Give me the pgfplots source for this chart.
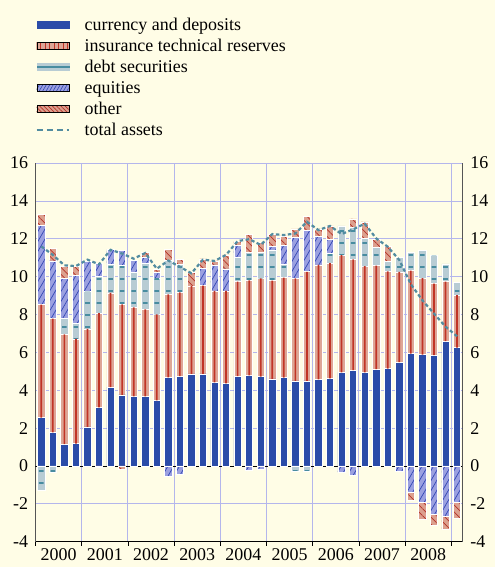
\documentclass[border=0pt]{standalone}
\usepackage{fontspec}
\setmainfont{Liberation Serif}
\usepackage{pgfplots}
\pgfplotsset{compat=1.18}
\usepackage{pgfplotstable}
\usetikzlibrary{patterns.meta}

\definecolor{bg}{RGB}{255,253,230}
\definecolor{curblue}{RGB}{43,76,168}
\definecolor{insfill}{RGB}{222,166,150}
\definecolor{insline}{RGB}{192,52,38}
\definecolor{debtfill}{RGB}{184,204,212}
\definecolor{debtline}{RGB}{72,140,160}
\definecolor{eqfill}{RGB}{155,160,224}
\definecolor{eqline}{RGB}{50,70,180}
\definecolor{othfill}{RGB}{220,160,142}
\definecolor{othline}{RGB}{180,50,40}
\definecolor{totline}{RGB}{82,140,160}
\definecolor{gridc}{RGB}{180,182,236}
\definecolor{axisgray}{RGB}{85,85,85}

\pgfplotstableread{
x cur ins debt eq oth
0.5 2.55 5.97 0 4.17 0.60
1.5 1.78 6.00 0 3.05 0.65
2.5 1.15 5.80 0.85 2.13 0.60
3.5 1.18 5.53 0.82 2.52 0.51
4.5 2.06 5.18 1.97 1.58 0
5.5 3.10 4.98 1.95 0.67 0
6.5 4.17 4.97 1.51 0.79 0
7.5 3.75 4.79 2.06 0.77 0
8.5 3.68 4.70 1.85 0.62 0
9.5 3.68 4.59 2.42 0.31 0.27
10.5 3.47 4.54 1.92 0.30 0.17
11.5 4.68 4.39 1.81 0 0.58
12.5 4.75 4.42 1.48 0 0.27
13.5 4.86 4.65 0 0 0.72
14.5 4.86 4.67 0 0.91 0.50
15.5 4.42 4.83 0 1.37 0.21
16.5 4.37 4.88 0 1.16 0.74
17.5 4.75 4.99 1.26 0.64 0.21
18.5 4.78 5.03 1.48 0 0.95
19.5 4.72 5.19 1.39 0 0.53
20.5 4.60 5.19 1.62 0.17 0.64
21.5 4.67 5.28 0.70 1.00 0.50
22.5 4.49 5.42 0 2.17 0.44
23.5 4.49 5.77 0 2.17 0.77
24.5 4.58 6.04 0 1.49 0.41
25.5 4.63 6.09 0.51 0.74 0.71
26.5 4.95 6.19 1.54 0 0
27.5 5.07 5.85 1.68 0 0.45
28.5 4.95 5.61 1.48 0 0.85
29.5 5.12 5.46 0.97 0 0.44
30.5 5.14 5.14 0.51 0 0.79
31.5 5.48 4.77 0.77 0 0
32.5 5.93 4.39 0.95 0 0
33.5 5.88 4.05 1.44 0 0
34.5 5.85 3.78 1.48 0 0
35.5 6.60 3.14 0.93 0 0
36.5 6.25 2.78 0.65 0 0
}\postab

\pgfplotstableread{
x debt eq oth
0.5 -1.30 0 0
1.5 -0.33 0 0
5.5 0 0 -0.08
7.5 0 0 -0.18
11.5 0 -0.56 0
12.5 0 -0.44 0
18.5 0 -0.25 0
19.5 0 -0.18 0
22.5 -0.26 0 0
23.5 -0.26 0 0
26.5 0 -0.33 0
27.5 0 -0.51 0
31.5 0 -0.30 0
32.5 0 -1.39 -0.40
33.5 0 -1.92 -0.88
34.5 0 -2.53 -0.59
35.5 0 -2.67 -0.66
36.5 0 -1.92 -0.84
}\negtab

\pgfplotstableread{
x tot
0.5 11.6
1.5 11.15
2.5 10.6
3.5 10.56
4.5 10.9
5.5 10.65
6.5 11.42
7.5 11.22
8.5 10.95
9.5 11.25
10.5 10.42
11.5 10.85
12.5 10.52
13.5 10.18
14.5 10.9
15.5 10.83
16.5 11.15
17.5 11.88
18.5 11.98
19.5 11.68
20.5 12.25
21.5 12.2
22.5 12.28
23.5 12.9
24.5 12.46
25.5 12.68
26.5 12.25
27.5 12.5
28.5 12.8
29.5 12.02
30.5 11.58
31.5 10.88
32.5 9.6
33.5 8.75
34.5 8.05
35.5 7.36
36.5 6.85
}\tottab

\pgfplotsset{
  base/.style={x=11.55bp, y=18.93bp, xmin=0, xmax=37, ymin=-4, ymax=16,
    enlargelimits=false, at={(35.5bp,25.3bp)}, anchor=south west},
  curst/.style={fill=curblue, draw=white, line width=0.7bp},
  insst/.style={fill=insfill, draw=white, line width=0.7bp},
  debtst/.style={fill=debtfill, draw=white, line width=0.7bp},
  debtpat/.style={draw=none, pattern={Lines[angle=0,distance=12bp,line width=1.2bp]}, pattern color=debtline},
  eqst/.style={fill=eqfill, draw=white, line width=0.7bp,
    postaction={pattern={Lines[angle=60,distance=5bp,line width=0.7bp]}, pattern color=eqline}},
  othst/.style={fill=othfill, draw=white, line width=0.7bp,
    postaction={pattern={Lines[angle=-45,distance=5bp,line width=0.7bp]}, pattern color=othline}},
  lab/.style={font=\fontsize{18}{20}\selectfont},
}

\begin{document}
\begin{tikzpicture}
\path[use as bounding box, fill=bg] (0,0) rectangle (495bp,567bp);

% background: grid, axes, labels
\begin{axis}[base, axis lines*=left, axis line style={-},
  x axis line style={black, line width=0.8bp},
  y axis line style={axisgray, line width=1.2bp},
  xtick={0,4,...,36}, xticklabels={},
  extra x ticks={2,6,10,14,18,22,26,30,34},
  extra x tick labels={2000,2001,2002,2003,2004,2005,2006,2007,2008},
  extra x tick style={major tick length=0pt, grid=none, tick label style={yshift=-3bp}},
  xtick style={black, line width=0.8bp}, tick align=outside, major tick length=4bp,
  ytick={-4,-2,...,16}, ytick style={draw=none},
  grid=major, major grid style={gridc, line width=0.9bp},
  tick label style={lab}, /pgf/number format/assume math mode=true]
\addplot[black, line width=0.9bp] coordinates {(0,0) (37,0)};
\end{axis}

% positive stacks
\begin{axis}[base, hide axis, ybar stacked, bar width=7.3bp]
\addplot[curst] table[x=x,y=cur]{\postab};
\addplot[insst] table[x=x,y=ins]{\postab};
\addplot[debtst] table[x=x,y=debt]{\postab};
\addplot[eqst] table[x=x,y=eq]{\postab};
\addplot[othst] table[x=x,y=oth]{\postab};
\end{axis}

% red centre lines of insurance bars, inset lines of debt bars
\begin{axis}[base, hide axis, ybar stacked, bar width=1.7bp]
\addplot[draw=none, fill=none] table[x=x,y=cur]{\postab};
\addplot[fill=insline, draw=none] table[x=x,y=ins]{\postab};
\addplot[debtpat, bar width=4.6bp] table[x=x,y=debt]{\postab};
\end{axis}

% negative stacks
\begin{axis}[base, hide axis, ybar stacked, bar width=7.3bp]
\addplot[debtst] table[x=x,y=debt]{\negtab};
\addplot[eqst] table[x=x,y=eq]{\negtab};
\addplot[othst] table[x=x,y=oth]{\negtab};
\end{axis}

% inset lines of negative debt bars
\begin{axis}[base, hide axis, ybar stacked, bar width=4.6bp]
\addplot[debtpat] table[x=x,y=debt]{\negtab};
\end{axis}

% total line, right axis, legend
\begin{axis}[base, axis x line=none, axis y line*=right, axis line style={-},
  y axis line style={axisgray, line width=1.2bp},
  xtick=\empty, ytick={-4,-2,...,16}, ytick style={draw=none},
  yticklabel pos=right, yticklabel style={xshift=4bp},
  tick label style={lab}, /pgf/number format/assume math mode=true,
  legend style={at={(0.0,1.385)}, anchor=north west, draw=none, fill=none,
    font=\fontsize{18}{20}\selectfont, legend cell align=left, inner sep=0pt,
    row sep=4bp, nodes={inner sep=0pt, text height=13bp, text depth=4bp},
    column sep=15bp}]
\addplot[forget plot, totline, line width=2.2bp, dash pattern=on 3.5bp off 2.5bp] table[x=x,y=tot]{\tottab};
\addlegendimage{legend image code/.code={\fill[curblue] (0bp,-2bp) rectangle (32bp,5bp);}}
\addlegendimage{legend image code/.code={\fill[insfill] (0bp,-2bp) rectangle (32bp,5bp);
  \fill[pattern={Lines[angle=90,distance=4.5bp,line width=1bp]}, pattern color=insline] (0bp,-2bp) rectangle (32bp,5bp);}}
\addlegendimage{legend image code/.code={\fill[debtfill] (0bp,-2bp) rectangle (32bp,5bp);
  \fill[debtline] (0bp,0.9bp) rectangle (32bp,2.1bp);}}
\addlegendimage{legend image code/.code={\fill[eqfill] (0bp,-2bp) rectangle (32bp,5bp);
  \fill[pattern={Lines[angle=60,distance=3bp,line width=0.6bp]}, pattern color=eqline] (0bp,-2bp) rectangle (32bp,5bp);}}
\addlegendimage{legend image code/.code={\fill[othfill] (0bp,-2bp) rectangle (32bp,5bp);
  \fill[pattern={Lines[angle=-45,distance=3bp,line width=0.6bp]}, pattern color=othline] (0bp,-2bp) rectangle (32bp,5bp);}}
\addlegendimage{legend image code/.code={\draw[totline, line width=2bp, dash pattern=on 6bp off 4bp] (0bp,1.5bp) -- (32bp,1.5bp);}}
\legend{currency and deposits, insurance technical reserves, debt securities, equities, other, total assets}
\end{axis}
\end{tikzpicture}
\end{document}
